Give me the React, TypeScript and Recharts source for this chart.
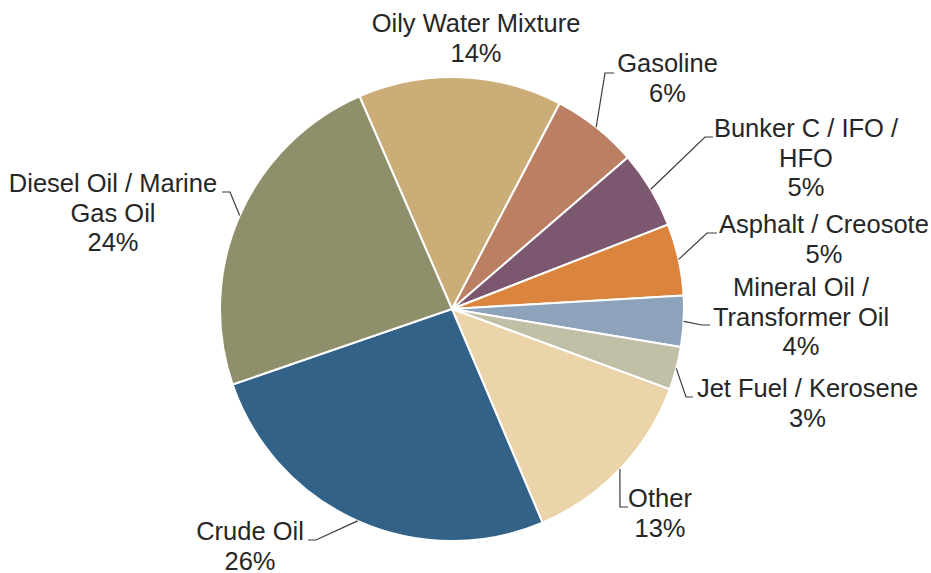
import { PieChart, Pie, Cell } from 'recharts';

const names = [
  'Oily Water Mixture',
  'Gasoline',
  'Bunker C / IFO /\nHFO',
  'Asphalt / Creosote',
  'Mineral Oil /\nTransformer Oil',
  'Jet Fuel / Kerosene',
  'Other',
  'Crude Oil',
  'Diesel Oil / Marine\nGas Oil',
];
const values = [14.2, 6.0, 5.4, 5.0, 3.55, 3.0, 13.0, 26.1, 23.75];
const colors = ['#CBAD77', '#BB8064', '#7B5870', '#DA843E', '#8CA3BB', '#C2BFA7', '#ECD4AA', '#336289', '#8F906B'];

const data = names.map((name, i) => ({ name, value: values[i] }));

// label placement relative to pie centre (text centre x, first baseline y, leader elbow, leader end)
const labelLayout = [
  { tx: 24, ty: -277 },
  { tx: 215.5, ty: -237, ex: 153, ey: -236, end: 162 },
  { tx: 354, ty: -172, ex: 253, ey: -172, end: 261 },
  { tx: 372, ty: -76, ex: 255, ey: -76, end: 265 },
  { tx: 349, ty: -13, ex: 250, ey: 16, end: 258 },
  { tx: 355.5, ty: 88, ex: 234, ey: 88, end: 241 },
  { tx: 208, ty: 198, ex: 168, ey: 198, end: 176 },
  { tx: -202, ty: 231, ex: -136, ey: 231, end: -144 },
  { tx: -339, ty: -117, ex: -222, ey: -117, end: -230 },
];

const RAD = Math.PI / 180;
const LINE_H = 29.5;

const renderLabel = (props: any) => {
  const { cx, cy, midAngle, outerRadius, index, percent, name } = props;
  const lay = labelLayout[index];
  const lines = [...String(name).split('\n'), `${Math.round(percent * 100)}%`];
  const ax = cx + outerRadius * Math.cos(-midAngle * RAD);
  const ay = cy + outerRadius * Math.sin(-midAngle * RAD);
  return (
    <g>
      {lay.ex !== undefined && (
        <polyline
          points={`${ax},${ay} ${cx + lay.ex},${cy + lay.ey} ${cx + lay.end},${cy + lay.ey}`}
          fill="none"
          stroke="#3a3a3a"
          strokeWidth={1.2}
        />
      )}
      <text
        x={cx + lay.tx}
        y={cy + lay.ty}
        textAnchor="middle"
        fill="#262626"
        fontSize={25.5}
        fontFamily="'Liberation Sans', Arial, sans-serif"
      >
        {lines.map((l, i) => (
          <tspan key={i} x={cx + lay.tx} dy={i === 0 ? 0 : LINE_H}>
            {l}
          </tspan>
        ))}
      </text>
    </g>
  );
};

export default function App() {
  return (
    <div style={{ position: 'absolute', left: 0, top: 0, width: 931, height: 573, background: '#fff' }}>
      <PieChart width={931} height={573} margin={{ top: 0, right: 0, bottom: 0, left: 0 }}>
        <Pie
          data={data}
          dataKey="value"
          nameKey="name"
          cx={452}
          cy={309}
          outerRadius={232}
          startAngle={113.5}
          endAngle={-246.5}
          stroke="#fff"
          strokeWidth={2}
          label={renderLabel}
          labelLine={false}
          isAnimationActive={false}
        >
          {data.map((d, i) => (
            <Cell key={d.name} fill={colors[i]} />
          ))}
        </Pie>
      </PieChart>
    </div>
  );
}
